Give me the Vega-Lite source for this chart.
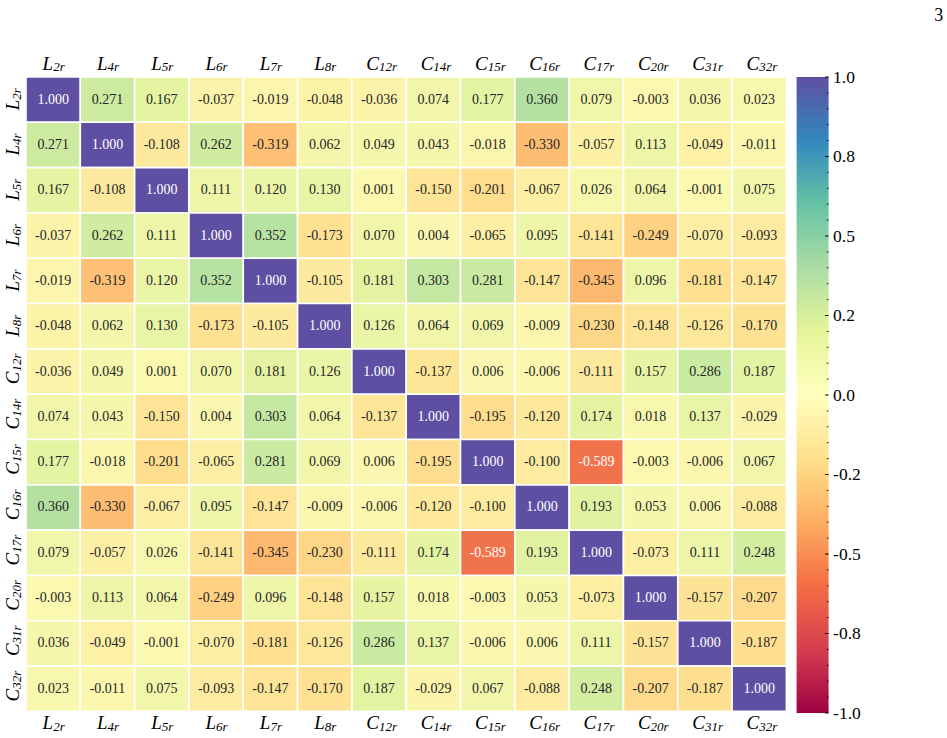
{
  "$schema": "https://vega.github.io/schema/vega-lite/v6.json",
  "background": "white",
  "padding": {"left": 3, "top": 7, "right": 0, "bottom": 0},
  "title": {"text": "3", "anchor": "end", "frame": "bounds", "fontSize": 18, "font": "Liberation Serif", "fontWeight": "normal", "color": "black", "dx": 83, "offset": 29},
  "config": {
    "view": {"stroke": null},
    "axis": {"domain": false, "ticks": false, "tickSize": 0, "grid": false, "title": null, "labelFont": "Liberation Serif", "labelColor": "black", "labelOverlap": false, "labelBound": false, "labelFlush": false, "labelLimit": 0}
  },
  "datasets": {
    "corr": [
      {"r":"L2r","c":"L2r","v":1},{"r":"L2r","c":"L4r","v":0.271},{"r":"L2r","c":"L5r","v":0.167},{"r":"L2r","c":"L6r","v":-0.037},{"r":"L2r","c":"L7r","v":-0.019},{"r":"L2r","c":"L8r","v":-0.048},{"r":"L2r","c":"C12r","v":-0.036},{"r":"L2r","c":"C14r","v":0.074},{"r":"L2r","c":"C15r","v":0.177},{"r":"L2r","c":"C16r","v":0.360},{"r":"L2r","c":"C17r","v":0.079},{"r":"L2r","c":"C20r","v":-0.003},{"r":"L2r","c":"C31r","v":0.036},{"r":"L2r","c":"C32r","v":0.023},
      {"r":"L4r","c":"L2r","v":0.271},{"r":"L4r","c":"L4r","v":1},{"r":"L4r","c":"L5r","v":-0.108},{"r":"L4r","c":"L6r","v":0.262},{"r":"L4r","c":"L7r","v":-0.319},{"r":"L4r","c":"L8r","v":0.062},{"r":"L4r","c":"C12r","v":0.049},{"r":"L4r","c":"C14r","v":0.043},{"r":"L4r","c":"C15r","v":-0.018},{"r":"L4r","c":"C16r","v":-0.330},{"r":"L4r","c":"C17r","v":-0.057},{"r":"L4r","c":"C20r","v":0.113},{"r":"L4r","c":"C31r","v":-0.049},{"r":"L4r","c":"C32r","v":-0.011},
      {"r":"L5r","c":"L2r","v":0.167},{"r":"L5r","c":"L4r","v":-0.108},{"r":"L5r","c":"L5r","v":1},{"r":"L5r","c":"L6r","v":0.111},{"r":"L5r","c":"L7r","v":0.120},{"r":"L5r","c":"L8r","v":0.130},{"r":"L5r","c":"C12r","v":0.001},{"r":"L5r","c":"C14r","v":-0.150},{"r":"L5r","c":"C15r","v":-0.201},{"r":"L5r","c":"C16r","v":-0.067},{"r":"L5r","c":"C17r","v":0.026},{"r":"L5r","c":"C20r","v":0.064},{"r":"L5r","c":"C31r","v":-0.001},{"r":"L5r","c":"C32r","v":0.075},
      {"r":"L6r","c":"L2r","v":-0.037},{"r":"L6r","c":"L4r","v":0.262},{"r":"L6r","c":"L5r","v":0.111},{"r":"L6r","c":"L6r","v":1},{"r":"L6r","c":"L7r","v":0.352},{"r":"L6r","c":"L8r","v":-0.173},{"r":"L6r","c":"C12r","v":0.070},{"r":"L6r","c":"C14r","v":0.004},{"r":"L6r","c":"C15r","v":-0.065},{"r":"L6r","c":"C16r","v":0.095},{"r":"L6r","c":"C17r","v":-0.141},{"r":"L6r","c":"C20r","v":-0.249},{"r":"L6r","c":"C31r","v":-0.070},{"r":"L6r","c":"C32r","v":-0.093},
      {"r":"L7r","c":"L2r","v":-0.019},{"r":"L7r","c":"L4r","v":-0.319},{"r":"L7r","c":"L5r","v":0.120},{"r":"L7r","c":"L6r","v":0.352},{"r":"L7r","c":"L7r","v":1},{"r":"L7r","c":"L8r","v":-0.105},{"r":"L7r","c":"C12r","v":0.181},{"r":"L7r","c":"C14r","v":0.303},{"r":"L7r","c":"C15r","v":0.281},{"r":"L7r","c":"C16r","v":-0.147},{"r":"L7r","c":"C17r","v":-0.345},{"r":"L7r","c":"C20r","v":0.096},{"r":"L7r","c":"C31r","v":-0.181},{"r":"L7r","c":"C32r","v":-0.147},
      {"r":"L8r","c":"L2r","v":-0.048},{"r":"L8r","c":"L4r","v":0.062},{"r":"L8r","c":"L5r","v":0.130},{"r":"L8r","c":"L6r","v":-0.173},{"r":"L8r","c":"L7r","v":-0.105},{"r":"L8r","c":"L8r","v":1},{"r":"L8r","c":"C12r","v":0.126},{"r":"L8r","c":"C14r","v":0.064},{"r":"L8r","c":"C15r","v":0.069},{"r":"L8r","c":"C16r","v":-0.009},{"r":"L8r","c":"C17r","v":-0.230},{"r":"L8r","c":"C20r","v":-0.148},{"r":"L8r","c":"C31r","v":-0.126},{"r":"L8r","c":"C32r","v":-0.170},
      {"r":"C12r","c":"L2r","v":-0.036},{"r":"C12r","c":"L4r","v":0.049},{"r":"C12r","c":"L5r","v":0.001},{"r":"C12r","c":"L6r","v":0.070},{"r":"C12r","c":"L7r","v":0.181},{"r":"C12r","c":"L8r","v":0.126},{"r":"C12r","c":"C12r","v":1},{"r":"C12r","c":"C14r","v":-0.137},{"r":"C12r","c":"C15r","v":0.006},{"r":"C12r","c":"C16r","v":-0.006},{"r":"C12r","c":"C17r","v":-0.111},{"r":"C12r","c":"C20r","v":0.157},{"r":"C12r","c":"C31r","v":0.286},{"r":"C12r","c":"C32r","v":0.187},
      {"r":"C14r","c":"L2r","v":0.074},{"r":"C14r","c":"L4r","v":0.043},{"r":"C14r","c":"L5r","v":-0.150},{"r":"C14r","c":"L6r","v":0.004},{"r":"C14r","c":"L7r","v":0.303},{"r":"C14r","c":"L8r","v":0.064},{"r":"C14r","c":"C12r","v":-0.137},{"r":"C14r","c":"C14r","v":1},{"r":"C14r","c":"C15r","v":-0.195},{"r":"C14r","c":"C16r","v":-0.120},{"r":"C14r","c":"C17r","v":0.174},{"r":"C14r","c":"C20r","v":0.018},{"r":"C14r","c":"C31r","v":0.137},{"r":"C14r","c":"C32r","v":-0.029},
      {"r":"C15r","c":"L2r","v":0.177},{"r":"C15r","c":"L4r","v":-0.018},{"r":"C15r","c":"L5r","v":-0.201},{"r":"C15r","c":"L6r","v":-0.065},{"r":"C15r","c":"L7r","v":0.281},{"r":"C15r","c":"L8r","v":0.069},{"r":"C15r","c":"C12r","v":0.006},{"r":"C15r","c":"C14r","v":-0.195},{"r":"C15r","c":"C15r","v":1},{"r":"C15r","c":"C16r","v":-0.100},{"r":"C15r","c":"C17r","v":-0.589},{"r":"C15r","c":"C20r","v":-0.003},{"r":"C15r","c":"C31r","v":-0.006},{"r":"C15r","c":"C32r","v":0.067},
      {"r":"C16r","c":"L2r","v":0.360},{"r":"C16r","c":"L4r","v":-0.330},{"r":"C16r","c":"L5r","v":-0.067},{"r":"C16r","c":"L6r","v":0.095},{"r":"C16r","c":"L7r","v":-0.147},{"r":"C16r","c":"L8r","v":-0.009},{"r":"C16r","c":"C12r","v":-0.006},{"r":"C16r","c":"C14r","v":-0.120},{"r":"C16r","c":"C15r","v":-0.100},{"r":"C16r","c":"C16r","v":1},{"r":"C16r","c":"C17r","v":0.193},{"r":"C16r","c":"C20r","v":0.053},{"r":"C16r","c":"C31r","v":0.006},{"r":"C16r","c":"C32r","v":-0.088},
      {"r":"C17r","c":"L2r","v":0.079},{"r":"C17r","c":"L4r","v":-0.057},{"r":"C17r","c":"L5r","v":0.026},{"r":"C17r","c":"L6r","v":-0.141},{"r":"C17r","c":"L7r","v":-0.345},{"r":"C17r","c":"L8r","v":-0.230},{"r":"C17r","c":"C12r","v":-0.111},{"r":"C17r","c":"C14r","v":0.174},{"r":"C17r","c":"C15r","v":-0.589},{"r":"C17r","c":"C16r","v":0.193},{"r":"C17r","c":"C17r","v":1},{"r":"C17r","c":"C20r","v":-0.073},{"r":"C17r","c":"C31r","v":0.111},{"r":"C17r","c":"C32r","v":0.248},
      {"r":"C20r","c":"L2r","v":-0.003},{"r":"C20r","c":"L4r","v":0.113},{"r":"C20r","c":"L5r","v":0.064},{"r":"C20r","c":"L6r","v":-0.249},{"r":"C20r","c":"L7r","v":0.096},{"r":"C20r","c":"L8r","v":-0.148},{"r":"C20r","c":"C12r","v":0.157},{"r":"C20r","c":"C14r","v":0.018},{"r":"C20r","c":"C15r","v":-0.003},{"r":"C20r","c":"C16r","v":0.053},{"r":"C20r","c":"C17r","v":-0.073},{"r":"C20r","c":"C20r","v":1},{"r":"C20r","c":"C31r","v":-0.157},{"r":"C20r","c":"C32r","v":-0.207},
      {"r":"C31r","c":"L2r","v":0.036},{"r":"C31r","c":"L4r","v":-0.049},{"r":"C31r","c":"L5r","v":-0.001},{"r":"C31r","c":"L6r","v":-0.070},{"r":"C31r","c":"L7r","v":-0.181},{"r":"C31r","c":"L8r","v":-0.126},{"r":"C31r","c":"C12r","v":0.286},{"r":"C31r","c":"C14r","v":0.137},{"r":"C31r","c":"C15r","v":-0.006},{"r":"C31r","c":"C16r","v":0.006},{"r":"C31r","c":"C17r","v":0.111},{"r":"C31r","c":"C20r","v":-0.157},{"r":"C31r","c":"C31r","v":1},{"r":"C31r","c":"C32r","v":-0.187},
      {"r":"C32r","c":"L2r","v":0.023},{"r":"C32r","c":"L4r","v":-0.011},{"r":"C32r","c":"L5r","v":0.075},{"r":"C32r","c":"L6r","v":-0.093},{"r":"C32r","c":"L7r","v":-0.147},{"r":"C32r","c":"L8r","v":-0.170},{"r":"C32r","c":"C12r","v":0.187},{"r":"C32r","c":"C14r","v":-0.029},{"r":"C32r","c":"C15r","v":0.067},{"r":"C32r","c":"C16r","v":-0.088},{"r":"C32r","c":"C17r","v":0.248},{"r":"C32r","c":"C20r","v":-0.207},{"r":"C32r","c":"C31r","v":-0.187},{"r":"C32r","c":"C32r","v":1}
    ],
    "ticks": [
      {"t":-1,"k":"major"},{"t":-0.95,"k":"minor"},{"t":-0.9,"k":"minor"},{"t":-0.85,"k":"minor"},{"t":-0.8,"k":"minor"},
      {"t":-0.75,"k":"major"},{"t":-0.7,"k":"minor"},{"t":-0.65,"k":"minor"},{"t":-0.6,"k":"minor"},{"t":-0.55,"k":"minor"},
      {"t":-0.5,"k":"major"},{"t":-0.45,"k":"minor"},{"t":-0.4,"k":"minor"},{"t":-0.35,"k":"minor"},{"t":-0.3,"k":"minor"},
      {"t":-0.25,"k":"major"},{"t":-0.2,"k":"minor"},{"t":-0.15,"k":"minor"},{"t":-0.1,"k":"minor"},{"t":-0.05,"k":"minor"},
      {"t":0,"k":"major"},{"t":0.05,"k":"minor"},{"t":0.1,"k":"minor"},{"t":0.15,"k":"minor"},{"t":0.2,"k":"minor"},
      {"t":0.25,"k":"major"},{"t":0.3,"k":"minor"},{"t":0.35,"k":"minor"},{"t":0.4,"k":"minor"},{"t":0.45,"k":"minor"},
      {"t":0.5,"k":"major"},{"t":0.55,"k":"minor"},{"t":0.6,"k":"minor"},{"t":0.65,"k":"minor"},{"t":0.7,"k":"minor"},
      {"t":0.75,"k":"major"},{"t":0.8,"k":"minor"},{"t":0.85,"k":"minor"},{"t":0.9,"k":"minor"},{"t":0.95,"k":"minor"},
      {"t":1,"k":"major"}
    ]
  },
  "spacing": 9.6,
  "bounds": "flush",
  "hconcat": [
    {
      "width": 760.4,
      "height": 634.4,
      "data": {"name": "corr"},
      "resolve": {"axis": {"x": "independent", "y": "independent"}},
      "layer": [
        {
          "mark": {"type": "rect", "stroke": "white", "strokeWidth": 1.6},
          "encoding": {
            "x": {"field": "c", "type": "nominal", "scale": {"domain": ["L2r","L4r","L5r","L6r","L7r","L8r","C12r","C14r","C15r","C16r","C17r","C20r","C31r","C32r"], "paddingInner": 0, "paddingOuter": 0},
                  "axis": {"orient": "top", "labelExpr": "slice(datum.label, 0, 1)", "labelFontSize": 19, "labelFontStyle": "italic", "labelAlign": "right", "labelBaseline": "alphabetic", "labelAngle": 0, "labelPadding": 8}},
            "y": {"field": "r", "type": "nominal", "scale": {"domain": ["L2r","L4r","L5r","L6r","L7r","L8r","C12r","C14r","C15r","C16r","C17r","C20r","C31r","C32r"], "paddingInner": 0, "paddingOuter": 0},
                  "axis": {"orient": "left", "labelExpr": "slice(datum.label, 0, 1)", "labelFontSize": 19, "labelFontStyle": "italic", "labelAlign": "right", "labelBaseline": "alphabetic", "labelAngle": 270, "labelPadding": 7.3}},
            "color": {"field": "v", "type": "quantitative", "scale": {"scheme": "spectral", "domain": [-1, 1]}, "legend": null}
          }
        },
        {
          "transform": [{"calculate": "replace(format(datum.v, '.3f'), '\u2212', '-')", "as": "lbl"}],
          "mark": {"type": "text", "font": "Liberation Serif", "fontSize": 14},
          "encoding": {
            "x": {"field": "c", "type": "nominal",
                  "axis": {"orient": "top", "labelExpr": "slice(datum.label, 1)", "labelFontSize": 13, "labelFontStyle": "italic", "labelAlign": "left", "labelBaseline": "alphabetic", "labelAngle": 0, "labelPadding": 6.5}},
            "y": {"field": "r", "type": "nominal",
                  "axis": {"orient": "left", "labelExpr": "slice(datum.label, 1)", "labelFontSize": 13, "labelFontStyle": "italic", "labelAlign": "left", "labelBaseline": "alphabetic", "labelAngle": 270, "labelPadding": 5.8}},
            "text": {"field": "lbl"},
            "color": {"condition": {"test": "abs(datum.v) > 0.5", "value": "white"}, "value": "#262626"}
          }
        },
        {
          "mark": {"type": "rect", "opacity": 0},
          "encoding": {
            "x": {"field": "c", "type": "nominal",
                  "axis": {"orient": "bottom", "labelExpr": "slice(datum.label, 0, 1)", "labelFontSize": 19, "labelFontStyle": "italic", "labelAlign": "right", "labelBaseline": "alphabetic", "labelAngle": 0, "labelPadding": 17.3}},
            "y": {"field": "r", "type": "nominal", "axis": null}
          }
        },
        {
          "mark": {"type": "rect", "opacity": 0},
          "encoding": {
            "x": {"field": "c", "type": "nominal",
                  "axis": {"orient": "bottom", "labelExpr": "slice(datum.label, 1)", "labelFontSize": 13, "labelFontStyle": "italic", "labelAlign": "left", "labelBaseline": "alphabetic", "labelAngle": 0, "labelPadding": 19}},
            "y": {"field": "r", "type": "nominal", "axis": null}
          }
        }
      ]
    },
    {
      "width": 32,
      "height": 636,
      "data": {"name": "ticks"},
      "layer": [
        {
          "data": {"values": [{"lo": -1, "hi": 1}]},
          "mark": {"type": "rect", "color": {"gradient": "linear", "x1": 0, "y1": 1, "x2": 0, "y2": 0,
            "stops": [
              {"offset": 0.0, "color": "#9e0142"}, {"offset": 0.1, "color": "#d53e4f"}, {"offset": 0.2, "color": "#f46d43"},
              {"offset": 0.3, "color": "#fdae61"}, {"offset": 0.4, "color": "#fee08b"}, {"offset": 0.5, "color": "#ffffbf"},
              {"offset": 0.6, "color": "#e6f598"}, {"offset": 0.7, "color": "#abdda4"}, {"offset": 0.8, "color": "#66c2a5"},
              {"offset": 0.9, "color": "#3288bd"}, {"offset": 1.0, "color": "#5e4fa2"}]}},
          "encoding": {
            "y": {"field": "lo", "type": "quantitative", "scale": {"domain": [-1, 1], "nice": false, "zero": false}},
            "y2": {"field": "hi"},
            "x": {"datum": 0, "type": "quantitative", "scale": {"domain": [0, 1], "nice": false, "zero": false}, "axis": null},
            "x2": {"datum": 1}
          }
        },
        {
          "transform": [{"filter": "datum.k == 'major'"}],
          "mark": {"type": "rule", "color": "black", "strokeWidth": 1},
          "encoding": {
            "y": {"field": "t", "type": "quantitative",
                  "axis": {"orient": "right", "values": [-1, -0.75, -0.5, -0.25, 0, 0.25, 0.5, 0.75, 1],
                           "labelExpr": "datum.value == 1 ? '1.0' : datum.value == 0.75 ? '0.8' : datum.value == 0.5 ? '0.5' : datum.value == 0.25 ? '0.2' : datum.value == 0 ? '0.0' : datum.value == -0.25 ? '-0.2' : datum.value == -0.5 ? '-0.5' : datum.value == -0.75 ? '-0.8' : '-1.0'",
                           "labelFont": "Liberation Serif", "labelFontStyle": "normal",
                           "labelFontSize": 17.5, "labelPadding": 4, "labelBaseline": "middle", "labelAlign": "left", "labelColor": "black", "labelOpacity": 1}},
            "x": {"datum": 0.89, "type": "quantitative"},
            "x2": {"datum": 1}
          }
        },
        {
          "transform": [{"filter": "datum.k == 'minor'"}],
          "mark": {"type": "rule", "color": "black", "strokeWidth": 0.8},
          "encoding": {
            "y": {"field": "t", "type": "quantitative"},
            "x": {"datum": 0.94, "type": "quantitative"},
            "x2": {"datum": 1}
          }
        }
      ]
    }
  ]
}
